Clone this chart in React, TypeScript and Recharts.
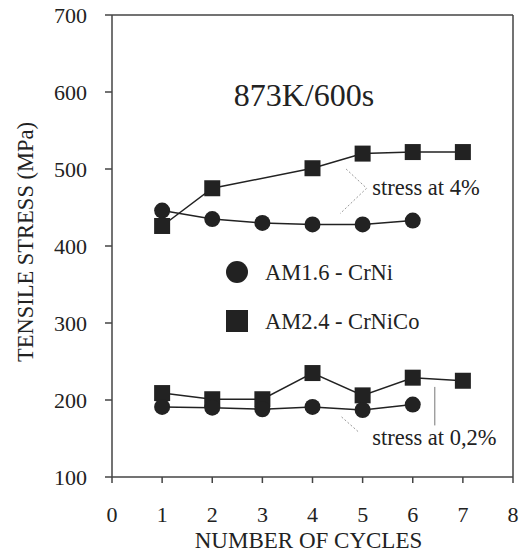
import React from 'react';
import {
  LineChart, Line, XAxis, YAxis, ReferenceDot, ReferenceLine,
} from 'recharts';

const cycles = [1, 2, 3, 4, 5, 6, 7];
const am16At4 = [446, 435, 430, 428, 428, 433, null];
const am24At4 = [426, 475, null, 501, 520, 522, 522];
const am16At02 = [191, 190, 188, 191, 187, 194, null];
const am24At02 = [209, 201, 201, 235, 206, 229, 225];

const xTicks = [0, 1, 2, 3, 4, 5, 6, 7, 8];
const yTicks = [100, 200, 300, 400, 500, 600, 700];

const data = cycles.map((c, i) => ({
  cycle: c,
  a4: am16At4[i],
  b4: am24At4[i],
  a02: am16At02[i],
  b02: am24At02[i],
}));

const FONT = '"Liberation Serif", "Times New Roman", serif';
const INK = '#222';
const AXIS = '#444';

const SquareDot = (props: any) => {
  const { cx, cy } = props;
  if (cx == null || cy == null || props.value == null) return null;
  return <rect x={cx - 8} y={cy - 8} width={16} height={16} fill={INK} />;
};

const CircleDot = (props: any) => {
  const { cx, cy } = props;
  if (cx == null || cy == null || props.value == null) return null;
  return <circle cx={cx} cy={cy} r={8} fill={INK} />;
};

const YTitle = ({ viewBox }: any) => {
  const x = 25;
  const y = viewBox.y + viewBox.height / 2 - 4;
  return (
    <text x={x} y={y} transform={`rotate(-90, ${x}, ${y})`} textAnchor="middle"
      dominantBaseline="central" fontSize={22.5} fontFamily={FONT} fill={INK}>
      TENSILE STRESS (MPa)
    </text>
  );
};

const XTitle = ({ viewBox }: any) => (
  <text x={viewBox.x + viewBox.width / 2 - 4} y={viewBox.y + 63} textAnchor="middle"
    dominantBaseline="central" fontSize={23} fontFamily={FONT} fill={INK}>
    NUMBER OF CYCLES
  </text>
);

const legendItems = [
  { name: 'AM1.6 - CrNi', shape: 'circle' },
  { name: 'AM2.4 - CrNiCo', shape: 'square' },
];

// legend drawn on its own so it does not take space from the plot
const LegendBox = () => (
  <svg width={220} height={84} style={{ position: 'absolute', left: 220, top: 255 }}>
    {legendItems.map((it, i) => {
      const cy = 17 + i * 49;
      return (
        <g key={it.name}>
          {it.shape === 'circle'
            ? <circle cx={17} cy={cy} r={11} fill={INK} />
            : <rect x={6} y={cy - 11} width={22} height={22} fill={INK} />}
          <text x={45} y={cy} dominantBaseline="central" fontSize={22.5}
            fontFamily={FONT} fill={INK}>{it.name}</text>
        </g>
      );
    })}
  </svg>
);

const noteStyle = { fontSize: 22.5, fontFamily: FONT, fill: INK };

export default function App() {
  return (
    <div style={{ position: 'absolute', left: 0, top: 0, width: 527, height: 552, background: '#fff' }}>
      <LineChart width={527} height={552} data={data}
        margin={{ top: 9, right: 8, bottom: 0, left: 0 }}>
        <XAxis dataKey="cycle" type="number" domain={[0, 8]} ticks={xTicks}
          interval={0} tickSize={6} tickMargin={23} height={75}
          stroke={AXIS} strokeWidth={1.5}
          tick={{ fill: INK, fontSize: 22, fontFamily: FONT }}
          label={<XTitle />} />
        <XAxis xAxisId="top" orientation="top" type="number" domain={[0, 8]}
          ticks={xTicks} interval={0} tickSize={6} height={6} tick={false}
          stroke={AXIS} strokeWidth={1.5} />
        <YAxis type="number" domain={[100, 700]} ticks={yTicks} interval={0}
          tickSize={7} tickMargin={18} width={112} stroke={AXIS} strokeWidth={1.5}
          tick={{ fill: INK, fontSize: 22, fontFamily: FONT }}
          label={<YTitle />} />
        <YAxis yAxisId="right" orientation="right" type="number" domain={[100, 700]}
          ticks={yTicks} interval={0} tickSize={6} width={6} tick={false}
          stroke={AXIS} strokeWidth={1.5} />

        <ReferenceLine segment={[{ x: 4.67, y: 500 }, { x: 5.08, y: 475 }]}
          stroke="#999" strokeDasharray="2 2" />
        <ReferenceLine segment={[{ x: 5.08, y: 475 }, { x: 4.55, y: 442 }]}
          stroke="#999" strokeDasharray="2 2" />
        <ReferenceLine segment={[{ x: 4.58, y: 178 }, { x: 4.91, y: 159 }]}
          stroke="#999" strokeDasharray="2 2" />
        <ReferenceLine segment={[{ x: 6.44, y: 217 }, { x: 6.44, y: 167 }]}
          stroke="#777" />

        <Line dataKey="b4" stroke={INK} strokeWidth={1.5} connectNulls
          dot={<SquareDot />} activeDot={false} isAnimationActive={false} />
        <Line dataKey="a4" stroke={INK} strokeWidth={1.5} connectNulls
          dot={<CircleDot />} activeDot={false} isAnimationActive={false} />
        <Line dataKey="b02" stroke={INK} strokeWidth={1.5} connectNulls
          dot={<SquareDot />} activeDot={false} isAnimationActive={false} />
        <Line dataKey="a02" stroke={INK} strokeWidth={1.5} connectNulls
          dot={<CircleDot />} activeDot={false} isAnimationActive={false} />

        <ReferenceDot x={3.83} y={596} r={0} stroke="none" fill="none"
          label={{ value: '873K/600s', position: 'center', fontSize: 32, fontFamily: FONT, fill: INK }} />
        <ReferenceDot x={5.19} y={477} r={0} stroke="none" fill="none"
          label={{ value: 'stress at 4%', position: 'right', offset: 0, ...noteStyle }} />
        <ReferenceDot x={5.19} y={152} r={0} stroke="none" fill="none"
          label={{ value: 'stress at 0,2%', position: 'right', offset: 0, ...noteStyle }} />
      </LineChart>
      <LegendBox />
    </div>
  );
}
